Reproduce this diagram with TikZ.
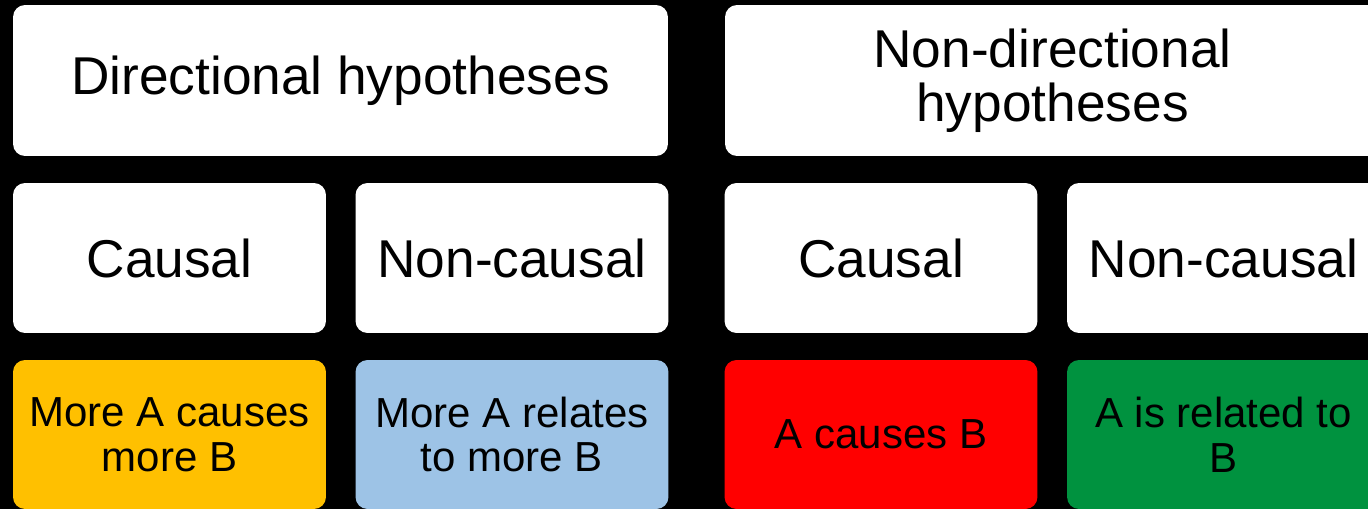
\documentclass[tikz,border=0pt]{standalone}
\usepackage{fontspec}
\setmainfont{Liberation Sans}
\usepackage{tikz}
\usetikzlibrary{positioning}
\definecolor{causeorange}{HTML}{FFC000}
\definecolor{relateblue}{HTML}{9DC3E6}
\definecolor{causered}{HTML}{FF0000}
\definecolor{relategreen}{HTML}{00923F}

\tikzset{
  card/.style={fill=white, rounded corners=0.24cm, inner sep=0pt, outer sep=0pt, align=center, text=black},
  headcard/.style={card, minimum width=13.1cm, minimum height=3.02cm, font=\fontsize{30.3}{30.5}\selectfont},
  kindcard/.style={card, minimum width=6.26cm, minimum height=3.0cm, font=\fontsize{30.3}{30.5}\selectfont},
  claimcard/.style={card, minimum width=6.26cm, minimum height=2.98cm, font=\fontsize{23.9}{25.6}\selectfont}
}

\begin{document}
\begin{tikzpicture}[x=0.02cm, y=-0.02cm]
  % Background and page size
  \fill[black] (0,0) rectangle (1368,509);
  \useasboundingbox (0,0) rectangle (1368,509);
  \clip (0,0) rectangle (1368,509);

  % Header row
  \node[headcard] (dirhead) at (340.5,80.5) {Directional hypotheses};
  \node[headcard] (nondirhead) at (1052.5,80.5) {Non-directional\\hypotheses};

  % Causal / non-causal row
  \node[kindcard] (dircausal) at (169.5,258) {Causal};
  \node[kindcard] (dirnoncausal) at (512,258) {Non-causal};
  \node[kindcard] (nondircausal) at (881,258) {Causal};
  \node[kindcard] (nondirnoncausal) at (1223.5,258) {Non-causal};

  % Example hypotheses
  \node[claimcard, fill=causeorange] (dircause) at (169.5,434.5) {More A causes\\more B};
  \node[claimcard, fill=relateblue] (dirrelate) at (512,434.5) {More A relates\\to more B};
  \node[claimcard, fill=causered] (nondircause) at (881,434.5) {A causes B};
  \node[claimcard, fill=relategreen] (nondirrelate) at (1223.5,434.5) {A is related to\\B};
\end{tikzpicture}
\end{document}
